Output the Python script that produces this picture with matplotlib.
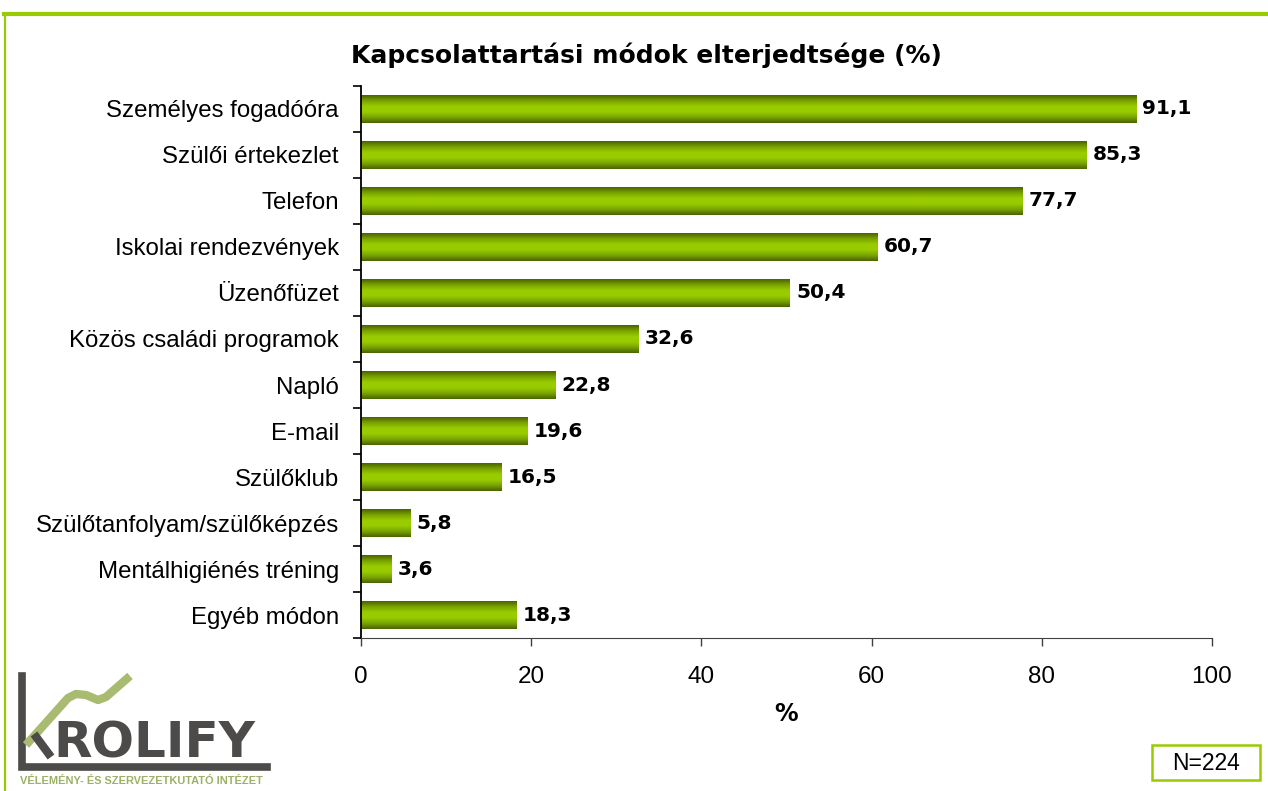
import numpy as np
import matplotlib
matplotlib.use("Agg")
from matplotlib import pyplot as plt
from matplotlib.colors import LinearSegmentedColormap
from matplotlib.lines import Line2D
from matplotlib.patches import Rectangle

# data
categories = [
    "Személyes fogadóóra",
    "Szülői értekezlet",
    "Telefon",
    "Iskolai rendezvények",
    "Üzenőfüzet",
    "Közös családi programok",
    "Napló",
    "E-mail",
    "Szülőklub",
    "Szülőtanfolyam/szülőképzés",
    "Mentálhigiénés tréning",
    "Egyéb módon",
]
values = [91.1, 85.3, 77.7, 60.7, 50.4, 32.6, 22.8, 19.6, 16.5, 5.8, 3.6, 18.3]
x_ticks = [0, 20, 40, 60, 80, 100]
title = "Kapcsolattartási módok elterjedtsége (%)"
sample_note = "N=224"

green = "#99cc00"
bar_cmap = LinearSegmentedColormap.from_list(
    "barshade", ["#4a6400", "#7aa300", "#99cc00", "#99cc00", "#7aa300", "#4a6400"])

fig = plt.figure(figsize=(12.68, 7.91), dpi=100)
ax = fig.add_axes([0.2847, 0.1934, 0.6711, 0.6979])

y = np.arange(len(categories))
bar_h = 0.6
bars = ax.barh(y, values, height=bar_h, color="none", edgecolor="none")

# vertical gradient in every bar
grad = np.linspace(0, 1, 64).reshape(-1, 1)
for b in bars:
    x0, y0 = b.get_x(), b.get_y()
    ax.imshow(grad, extent=(x0, x0 + b.get_width(), y0 + b.get_height(), y0),
              cmap=bar_cmap, aspect="auto", interpolation="bicubic", zorder=2)

for yi, v in zip(y, values):
    ax.annotate(f"{v:.1f}".replace(".", ","), xy=(v, yi), xytext=(4.5, 0),
                textcoords="offset points", va="center", ha="left",
                fontsize=14.5, fontweight="bold", family="DejaVu Sans")

ax.set_xlim(0, 100)
ax.set_ylim(len(categories) - 0.5, -0.5)
ax.set_xticks(x_ticks)
ax.set_xticklabels([str(t) for t in x_ticks], fontsize=17.5, family="Liberation Sans")
ax.set_yticks(y)
ax.set_yticklabels(categories, fontsize=17.3, family="Liberation Sans")
ax.set_yticks(np.arange(-0.5, len(categories), 1), minor=True)
ax.tick_params(axis="y", which="major", length=0, pad=16)
ax.tick_params(axis="y", which="minor", length=6, width=1.2, direction="out")
ax.tick_params(axis="x", length=6, width=1, color="#404040", direction="out", pad=14)
for s in ["top", "right"]:
    ax.spines[s].set_visible(False)
ax.spines["left"].set_linewidth(1.3)
ax.spines["bottom"].set_color("#404040")
ax.set_xlabel("%", fontsize=17, fontweight="bold", family="DejaVu Sans", labelpad=10)

fig.text(0.5095, 0.930, title, ha="center", va="center", fontsize=18,
         fontweight="bold", family="DejaVu Sans")

# frame lines
W, H = 1268, 791
fig.add_artist(Line2D([4 / W, 1], [1 - 14 / H, 1 - 14 / H], color=green, lw=3))
fig.add_artist(Line2D([4.5 / W, 4.5 / W], [1 - 14 / H, 0], color=green, lw=1.6))

# N box
fig.add_artist(Rectangle((1152 / W, 1 - 780 / H), 108 / W, 35 / H, fill=False,
                         edgecolor=green, lw=1.8))
fig.text(1206 / W, 1 - 763 / H, sample_note, ha="center", va="center",
         fontsize=16.5, family="Liberation Sans")

# logo
def px(xp, yp):
    return xp / W, 1 - yp / H

gray = "#4d4b49"
logo_green = "#a8bb70"
xs, ys = zip(*[px(22, 676), px(22, 767), px(267, 767)])
fig.add_artist(Line2D(xs, ys, color=gray, lw=5.5, solid_joinstyle="miter"))
curve = [(26, 745), (68, 698), (76, 694), (86, 695), (98, 700), (106, 697), (130, 676)]
xs, ys = zip(*[px(a, b) for a, b in curve])
fig.add_artist(Line2D(xs, ys, color=logo_green, lw=6, solid_capstyle="butt"))
xs, ys = zip(*[px(34, 734), px(51, 757)])
fig.add_artist(Line2D(xs, ys, color=gray, lw=6, solid_capstyle="butt"))
fig.text(*px(53, 757), "ROLIFY", ha="left", va="baseline", fontsize=36,
         fontweight="bold", family="DejaVu Sans", color=gray)
fig.text(*px(20, 781), "VÉLEMÉNY- ÉS SZERVEZETKUTATÓ INTÉZET", ha="left",
         va="center", fontsize=7.9, fontweight="bold", family="Liberation Sans",
         color="#9cb066")

fig.savefig("out.png", dpi=100)
